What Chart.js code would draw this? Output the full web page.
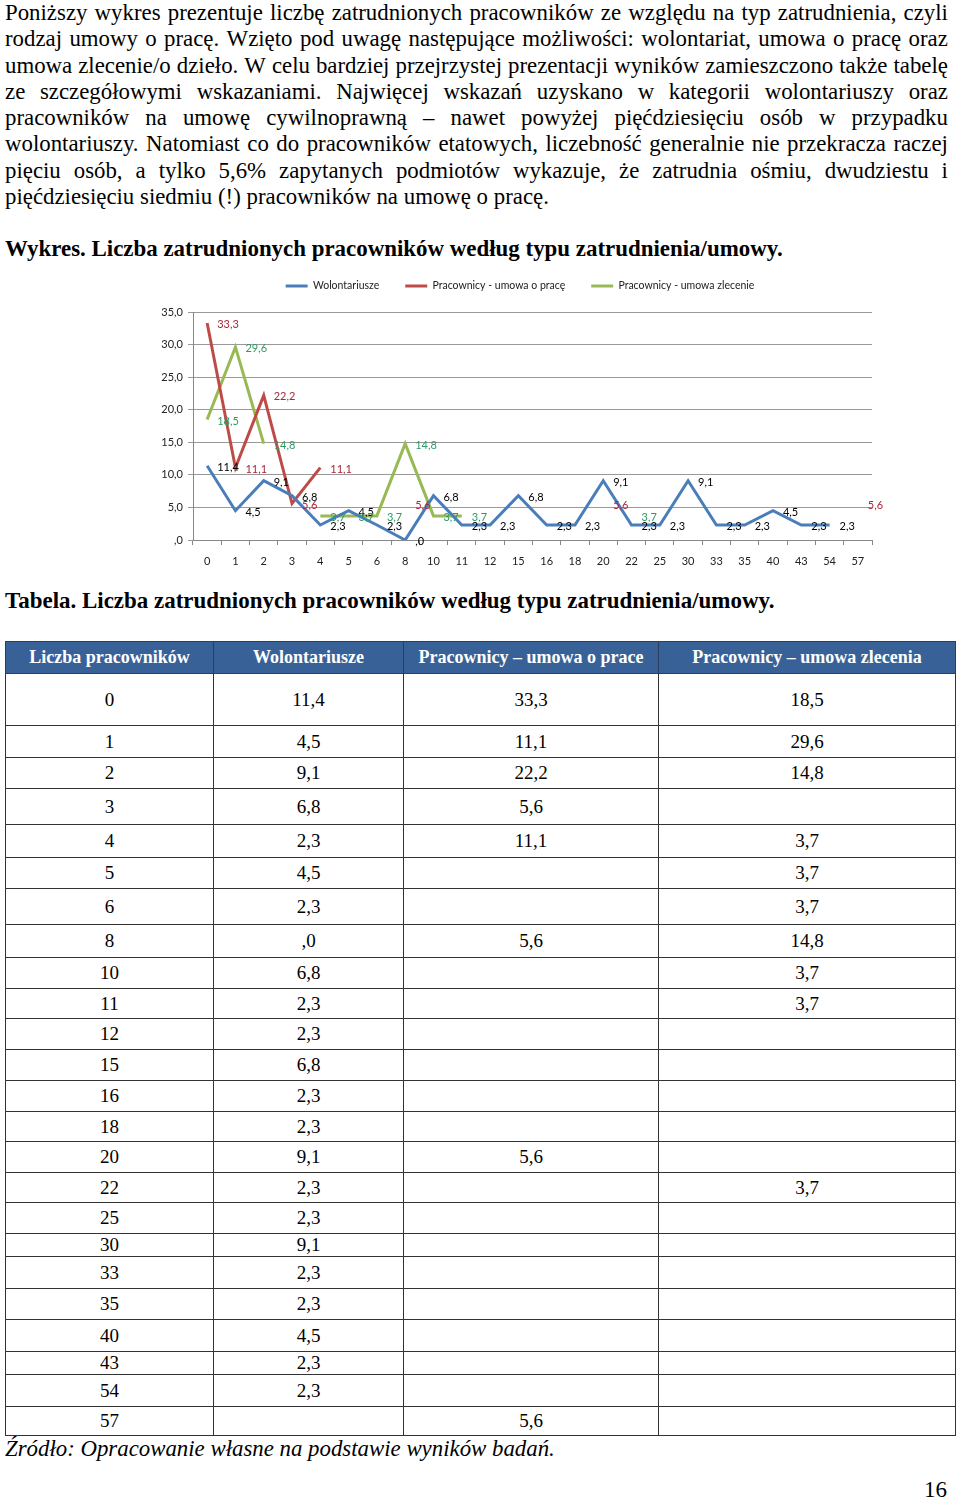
<!DOCTYPE html>
<html lang="pl">
<head>
<meta charset="utf-8">
<script src="https://cdn.jsdelivr.net/npm/chart.js@4.4.1/dist/chart.umd.min.js"></script>
<style>
  html, body { margin: 0; padding: 0; background: #fff; }
  body { width: 960px; height: 1502px; position: relative; overflow: hidden;
         font-family: "Liberation Serif", "Times New Roman", serif; color: #000; }
  .abs { position: absolute; }
  #para { left: 5px; top: 0; width: 943px; line-height: 26.3px; }
  #para .ln { display: flex; justify-content: space-between; white-space: nowrap; height: 26.3px; }
  #para .last { white-space: nowrap; height: 26.3px; }
  .title { font-weight: bold; white-space: nowrap; line-height: 26px; left: 5px; }
  #chartBox { left: 150px; top: 270px; }
  table { border-collapse: collapse; table-layout: fixed; }
  #tbl { left: 5px; top: 641px; width: 950px; }
  #tbl th { background: #386297; color: #fff; font-size: 18px; font-weight: bold;
            border: 1px solid #2a3f5c; padding: 0; }
  #tbl td { border: 1px solid #333; text-align: center; font-size: 19px; padding: 0; }
  #source { left: 5px; top: 1436px; font-style: italic; white-space: nowrap; line-height: 26px; }
  #page { right: 13px; top: 1476px; font-size: 23px; line-height: 28px; }
</style>
</head>
<body>
<div id="para" class="abs"></div>
<div id="chartTitle" class="abs title" style="top:236px">Wykres. Liczba zatrudnionych pracowników według typu zatrudnienia/umowy.</div>
<div id="chartBox" class="abs"><canvas id="chart" width="740" height="300"></canvas></div>
<div id="tableTitle" class="abs title" style="top:588px">Tabela. Liczba zatrudnionych pracowników według typu zatrudnienia/umowy.</div>
<table id="tbl" class="abs"></table>
<div id="source" class="abs">Źródło: Opracowanie własne na podstawie wyników badań.</div>
<div id="page" class="abs">16</div>

<script>
const categories = ['0', '1', '2', '3', '4', '5', '6', '8', '10', '11', '12', '15', '16', '18', '20', '22', '25', '30', '33', '35', '40', '43', '54', '57'];
const wolontariusze = [11.4, 4.5, 9.1, 6.8, 2.3, 4.5, 2.3, 0, 6.8, 2.3, 2.3, 6.8, 2.3, 2.3, 9.1, 2.3, 2.3, 9.1, 2.3, 2.3, 4.5, 2.3, 2.3, null];
const umowaOPrace = [33.3, 11.1, 22.2, 5.6, 11.1, null, null, 5.6, null, null, null, null, null, null, 5.6, null, null, null, null, null, null, null, null, 5.6];
const umowaZlecenie = [18.5, 29.6, 14.8, null, 3.7, 3.7, 3.7, 14.8, 3.7, 3.7, null, null, null, null, null, 3.7, null, null, null, null, null, null, null, null];
const seriesNames = ['Wolontariusze', 'Pracownicy - umowa o pracę', 'Pracownicy - umowa zlecenie'];
const tableHeaders = ['Liczba pracowników', 'Wolontariusze', 'Pracownicy – umowa o prace', 'Pracownicy – umowa zlecenia'];
const yTicks = [0, 5, 10, 15, 20, 25, 30, 35];

const paragraphLines = [
    'Poniższy wykres prezentuje liczbę zatrudnionych pracowników ze względu na typ zatrudnienia, czyli',
    'rodzaj umowy o pracę. Wzięto pod uwagę następujące możliwości: wolontariat, umowa o pracę oraz',
    'umowa zlecenie/o dzieło. W celu bardziej przejrzystej prezentacji wyników zamieszczono także tabelę',
    'ze szczegółowymi wskazaniami. Najwięcej wskazań uzyskano w kategorii wolontariuszy oraz',
    'pracowników na umowę cywilnoprawną – nawet powyżej pięćdziesięciu osób w przypadku',
    'wolontariuszy. Natomiast co do pracowników etatowych, liczebność generalnie nie przekracza raczej',
    'pięciu osób, a tylko 5,6% zapytanych podmiotów wykazuje, że zatrudnia ośmiu, dwudziestu i',
    'pięćdziesięciu siedmiu (!) pracowników na umowę o pracę.'
];

function fmt(v) {
    if (v === 0) return ',0';
    return v.toFixed(1).replace('.', ',');
}

// dopasowanie rozmiaru czcionki do szerokości w oryginale
const mctx = document.createElement('canvas').getContext('2d');
function fitSize(text, style, family, target) {
    mctx.font = style + ' 20px ' + family;
    return 20 * target / mctx.measureText(text).width;
}

const serif = '"Liberation Serif"';
const paraSize = fitSize(paragraphLines[7], '', serif, 544);
const para = document.getElementById('para');
para.style.fontSize = paraSize + 'px';
paragraphLines.forEach((line, i) => {
    const div = document.createElement('div');
    if (i === paragraphLines.length - 1) {
        div.className = 'last';
        div.textContent = line;
    } else {
        div.className = 'ln';
        line.split(' ').forEach(w => {
            const s = document.createElement('span');
            s.textContent = w;
            div.appendChild(s);
        });
    }
    para.appendChild(div);
});

const ct = document.getElementById('chartTitle');
ct.style.fontSize = fitSize(ct.textContent, 'bold', serif, 778) + 'px';
const tt = document.getElementById('tableTitle');
tt.style.fontSize = fitSize(tt.textContent, 'bold', serif, 770) + 'px';
const src = document.getElementById('source');
src.style.fontSize = fitSize(src.textContent, 'italic', serif, 550) + 'px';

// tabela
const colWidths = [208, 190, 255, 297];
const rowHeights = [52, 32, 31, 36, 33, 31, 36, 33, 31, 30, 31, 31, 31, 30, 31, 30, 31, 23, 32, 31, 32, 22, 32, 29];
const tbl = document.getElementById('tbl');
let html = '<colgroup>' + colWidths.map(w => `<col style="width:${w}px">`).join('') + '</colgroup>';
html += '<tr style="height:32px">' + tableHeaders.map(h => `<th>${h}</th>`).join('') + '</tr>';
categories.forEach((c, i) => {
    const cells = [c, wolontariusze[i], umowaOPrace[i], umowaZlecenie[i]]
        .map((v, k) => k === 0 ? v : (v === null ? '' : fmt(v)));
    html += `<tr style="height:${rowHeights[i]}px">` + cells.map(v => `<td>${v}</td>`).join('') + '</tr>';
});
tbl.innerHTML = html;

// etykiety danych obok punktów
const dataLabels = {
    id: 'dataLabels',
    afterDatasetsDraw(chart) {
        const ctx = chart.ctx;
        ctx.save();
        ctx.font = '11px Lato';
        ctx.textAlign = 'left';
        ctx.textBaseline = 'middle';
        chart.data.datasets.forEach((ds, i) => {
            const meta = chart.getDatasetMeta(i);
            meta.data.forEach((pt, j) => {
                const v = ds.data[j];
                if (v === null) return;
                ctx.fillStyle = ds.labelColor;
                ctx.fillText(fmt(v), pt.x + 10, pt.y + 1.5);
            });
        });
        ctx.restore();
    }
};

// legenda: stała wysokość i przesunięcie jak w oryginale
const legendPad = 26;
const legendFont = 10.5;
const legendPlace = {
    id: 'legendPlace',
    beforeInit(chart) {
        const fit = chart.legend.fit;
        chart.legend.fit = function() {
            fit.call(this);
            this.height = 42;
        };
    },
    afterLayout(chart) {
        chart.legend.top = 16 - legendPad - legendFont / 2;
        chart.legend.left += 9;
        chart.legend.right += 9;
    }
};

new Chart(document.getElementById('chart'), {
    type: 'line',
    data: {
        labels: categories,
        datasets: [{
            label: seriesNames[0],
            data: wolontariusze,
            borderColor: '#4a7ebb',
            backgroundColor: '#4a7ebb',
            labelColor: '#000000',
            borderWidth: 3
        },
        {
            label: seriesNames[1],
            data: umowaOPrace,
            borderColor: '#be4b48',
            backgroundColor: '#be4b48',
            labelColor: '#a8283a',
            borderWidth: 3
        },
        {
            label: seriesNames[2],
            data: umowaZlecenie,
            borderColor: '#98b954',
            backgroundColor: '#98b954',
            labelColor: '#2c9a62',
            borderWidth: 3
        }]
    },
    options: {
        responsive: false,
        animation: false,
        events: [],
        elements: { point: { radius: 0 }, line: { tension: 0 } },
        layout: { padding: { right: 18 } },
        plugins: {
            tooltip: { enabled: false },
            legend: {
                position: 'top',
                labels: {
                    usePointStyle: true,
                    pointStyle: 'line',
                    pointStyleWidth: 22,
                    boxWidth: 22,
                    padding: legendPad,
                    color: '#222',
                    font: { family: 'Lato', size: legendFont }
                }
            }
        },
        scales: {
            x: {
                offset: true,
                grid: { drawOnChartArea: false, offset: true, tickLength: 5, color: '#888' },
                border: { display: true, color: '#888' },
                ticks: { color: '#222', padding: 10, maxRotation: 0, autoSkip: false,
                         font: { family: 'Lato', size: 11 } },
                afterFit(scale) { scale.height = 30; }
            },
            y: {
                min: 0,
                max: 35,
                afterBuildTicks(scale) { scale.ticks = yTicks.map(v => ({ value: v })); },
                grid: { color: '#999', tickLength: 5 },
                border: { display: true, color: '#888' },
                ticks: { color: '#222', padding: 5, callback: v => fmt(v),
                         font: { family: 'Lato', size: 11 } },
                afterFit(scale) { scale.width = 43; }
            }
        }
    },
    plugins: [dataLabels, legendPlace]
});
</script>
</body>
</html>
